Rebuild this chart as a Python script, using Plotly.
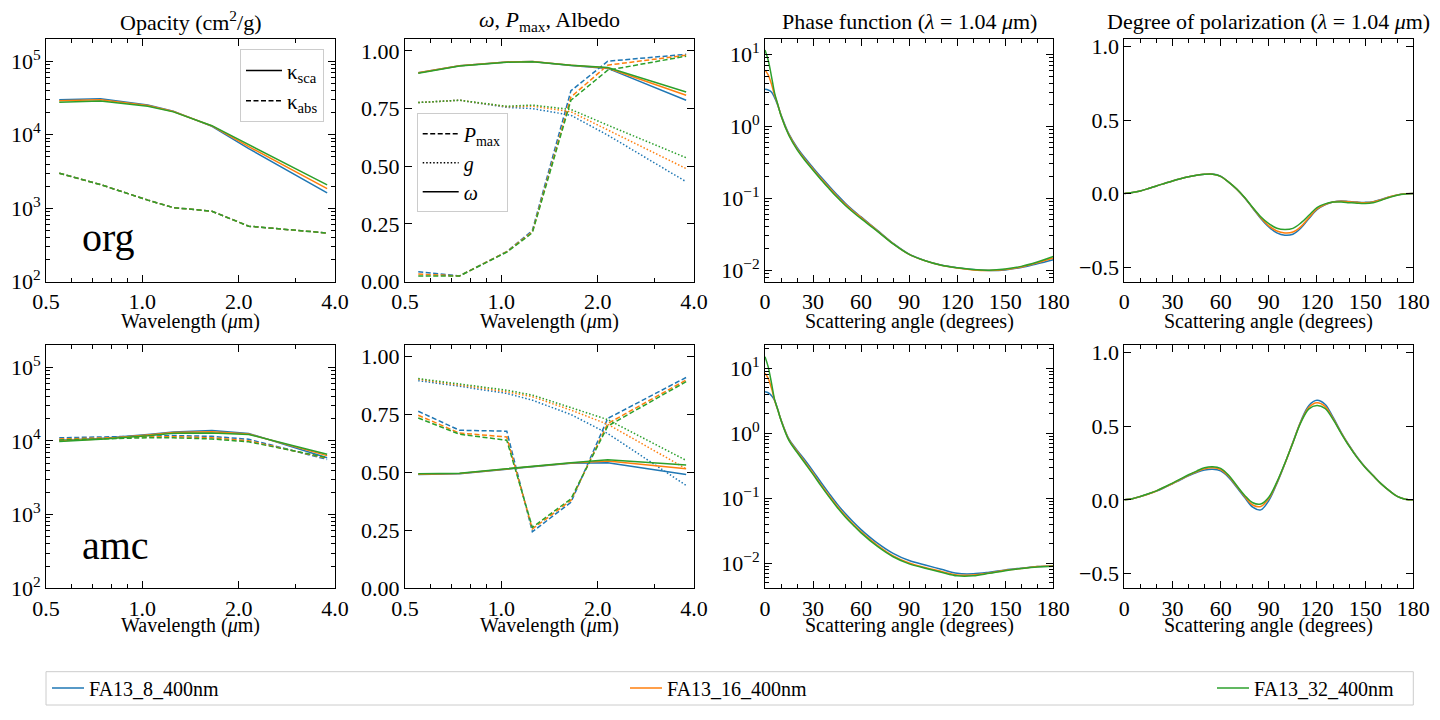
import numpy as np
import plotly.graph_objects as go
from plotly.subplots import make_subplots

models = ["FA13_8_400nm", "FA13_16_400nm", "FA13_32_400nm"]
colors = ["#1f77b4", "#ff7f0e", "#2ca02c"]

wavelength = [0.55, 0.74, 1.04, 1.25, 1.65, 2.15, 3.78]
wl_ticks = [0.5, 1, 2, 4]
wl_ticktext = ["0.5", "1.0", "2.0", "4.0"]
opac_ticks = [1e2, 1e3, 1e4, 1e5]
opac_ticktext = ["10<sup>2</sup>", "10<sup>3</sup>", "10<sup>4</sup>", "10<sup>5</sup>"]
phase_ticks = [1e-2, 1e-1, 1, 10]
phase_ticktext = ["10<sup>−2</sup>", "10<sup>−1</sup>", "10<sup>0</sup>", "10<sup>1</sup>"]

# opacity (cm^2/g), one list per model
org_ksca = [[2.99e4, 3.1e4, 2.55e4, 2.1e4, 1.3e4, 6.5e3, 1.62e3],
            [2.9e4, 3.0e4, 2.5e4, 2.08e4, 1.32e4, 6.9e3, 1.85e3],
            [2.77e4, 2.88e4, 2.45e4, 2.05e4, 1.33e4, 7.3e3, 2.08e3]]
org_kabs = [[3.0e3, 2.1e3, 1.29e3, 1.02e3, 9.1e2, 5.7e2, 4.6e2],
            [3.0e3, 2.1e3, 1.29e3, 1.02e3, 9.1e2, 5.7e2, 4.6e2],
            [3.0e3, 2.1e3, 1.29e3, 1.02e3, 9.1e2, 5.7e2, 4.6e2]]
amc_ksca = [[1.02e4, 1.08e4, 1.22e4, 1.32e4, 1.38e4, 1.26e4, 5.9e3],
            [1.0e4, 1.06e4, 1.2e4, 1.3e4, 1.33e4, 1.24e4, 6.3e3],
            [0.98e4, 1.05e4, 1.17e4, 1.27e4, 1.28e4, 1.22e4, 6.6e3]]
amc_kabs = [[1.1e4, 1.12e4, 1.16e4, 1.18e4, 1.15e4, 1.05e4, 5.6e3],
            [1.06e4, 1.1e4, 1.13e4, 1.14e4, 1.1e4, 1.0e4, 5.8e3],
            [1.03e4, 1.07e4, 1.1e4, 1.1e4, 1.06e4, 0.97e4, 5.9e3]]

# albedo, max polarization, asymmetry parameter
org_albedo = [[0.905, 0.935, 0.952, 0.954, 0.937, 0.924, 0.786],
              [0.905, 0.935, 0.952, 0.954, 0.938, 0.926, 0.808],
              [0.903, 0.934, 0.951, 0.953, 0.938, 0.928, 0.822]]
org_pmax = [[0.043, 0.025, 0.13, 0.222, 0.827, 0.955, 0.985],
            [0.033, 0.025, 0.13, 0.216, 0.80, 0.938, 0.981],
            [0.025, 0.025, 0.128, 0.212, 0.786, 0.916, 0.977]]
org_g = [[0.776, 0.786, 0.755, 0.75, 0.721, 0.635, 0.433],
         [0.776, 0.786, 0.758, 0.76, 0.736, 0.657, 0.49],
         [0.776, 0.786, 0.76, 0.765, 0.746, 0.678, 0.537]]
amc_albedo = [[0.491, 0.494, 0.514, 0.524, 0.540, 0.542, 0.491],
              [0.492, 0.495, 0.515, 0.526, 0.541, 0.549, 0.516],
              [0.494, 0.496, 0.516, 0.527, 0.542, 0.555, 0.532]]
amc_pmax = [[0.764, 0.682, 0.678, 0.244, 0.371, 0.733, 0.91],
            [0.747, 0.67, 0.653, 0.256, 0.379, 0.711, 0.899],
            [0.735, 0.665, 0.639, 0.263, 0.386, 0.70, 0.892]]
amc_g = [[0.896, 0.872, 0.841, 0.812, 0.75, 0.668, 0.444],
         [0.902, 0.878, 0.848, 0.827, 0.769, 0.708, 0.516],
         [0.905, 0.882, 0.855, 0.834, 0.78, 0.728, 0.552]]

# phase function at 1.04 um
phase_angle = [0, 2, 4, 6, 8, 10, 15, 20, 25, 30, 35, 40, 45, 50, 55, 60,
               70, 80, 90, 100, 110, 120, 130, 140, 150, 160, 170, 180]
org_phase = [[3.27, 3.2, 3.0, 2.5, 1.95, 1.45, 0.78, 0.51, 0.362, 0.266, 0.197, 0.148, 0.112, 0.086, 0.068, 0.055,
              0.036, 0.0236, 0.0167, 0.0136, 0.0118, 0.0108, 0.0102, 0.0099, 0.0101, 0.0109, 0.0123, 0.0140],
             [6.05, 5.2, 3.9, 2.7, 2.0, 1.42, 0.76, 0.49, 0.347, 0.254, 0.188, 0.141, 0.107, 0.083, 0.066, 0.054,
              0.0355, 0.0234, 0.0166, 0.0135, 0.0117, 0.0107, 0.0101, 0.0099, 0.0102, 0.0111, 0.0127, 0.0148],
             [11.5, 8.3, 5.0, 2.9, 2.02, 1.4, 0.74, 0.475, 0.335, 0.245, 0.181, 0.136, 0.103, 0.080, 0.064, 0.052,
              0.035, 0.0232, 0.0166, 0.0135, 0.0117, 0.0108, 0.0102, 0.0100, 0.0104, 0.0113, 0.0130, 0.0155]]
amc_phase = [[4.37, 4.2, 3.8, 3.2, 2.3, 1.62, 0.81, 0.55, 0.385, 0.262, 0.175, 0.119, 0.082, 0.0586, 0.0435, 0.033,
              0.0206, 0.0142, 0.0110, 0.0094, 0.0081, 0.0070, 0.0069, 0.0073, 0.0079, 0.0084, 0.0089, 0.0091],
             [8.4, 7.0, 5.0, 3.2, 2.29, 1.6, 0.79, 0.531, 0.359, 0.243, 0.162, 0.110, 0.0759, 0.0543, 0.0403, 0.0305,
              0.0191, 0.0130, 0.0101, 0.0086, 0.0075, 0.0066, 0.0066, 0.0071, 0.0078, 0.0083, 0.0089, 0.0091],
             [15.1, 10.5, 6.0, 3.3, 2.3, 1.58, 0.77, 0.51, 0.345, 0.233, 0.155, 0.105, 0.0728, 0.0521, 0.0387, 0.0293,
              0.0183, 0.0126, 0.0098, 0.0084, 0.0073, 0.0064, 0.0064, 0.0070, 0.0077, 0.0083, 0.0088, 0.0090]]

# degree of polarization at 1.04 um
pol_angle = list(range(0, 181, 5))
org_pol = [[0, 0.007, 0.018, 0.034, 0.052, 0.069, 0.086, 0.101, 0.114, 0.124, 0.131, 0.133, 0.118, 0.078,
            0.03, -0.03, -0.10, -0.17, -0.228, -0.268, -0.284, -0.277, -0.235, -0.17, -0.11, -0.077,
            -0.058, -0.05, -0.054, -0.058, -0.06, -0.055, -0.04, -0.023, -0.009, -0.002, 0],
           [0, 0.007, 0.018, 0.034, 0.052, 0.069, 0.086, 0.101, 0.114, 0.124, 0.131, 0.132, 0.117, 0.078,
            0.03, -0.029, -0.098, -0.165, -0.22, -0.255, -0.268, -0.262, -0.225, -0.163, -0.105, -0.075,
            -0.058, -0.052, -0.056, -0.06, -0.062, -0.057, -0.042, -0.024, -0.01, -0.002, 0],
           [0, 0.007, 0.018, 0.034, 0.052, 0.069, 0.086, 0.101, 0.114, 0.124, 0.131, 0.132, 0.117, 0.078,
            0.031, -0.027, -0.095, -0.158, -0.205, -0.236, -0.245, -0.237, -0.20, -0.148, -0.095, -0.07,
            -0.058, -0.058, -0.062, -0.066, -0.068, -0.062, -0.046, -0.027, -0.011, -0.003, 0]]
amc_pol = [[0, 0.008, 0.023, 0.04, 0.059, 0.083, 0.109, 0.136, 0.162, 0.185, 0.202, 0.207, 0.196, 0.152,
            0.085, 0.015, -0.05, -0.068, -0.005, 0.11, 0.245, 0.39, 0.535, 0.64, 0.675, 0.648, 0.56,
            0.46, 0.37, 0.29, 0.222, 0.165, 0.109, 0.063, 0.023, 0.004, 0],
           [0, 0.008, 0.023, 0.04, 0.06, 0.085, 0.111, 0.139, 0.166, 0.19, 0.21, 0.217, 0.206, 0.16,
            0.092, 0.023, -0.035, -0.045, 0.008, 0.115, 0.245, 0.388, 0.53, 0.628, 0.658, 0.634, 0.552,
            0.456, 0.367, 0.288, 0.221, 0.164, 0.108, 0.062, 0.023, 0.004, 0],
           [0, 0.008, 0.023, 0.041, 0.061, 0.087, 0.113, 0.142, 0.17, 0.195, 0.218, 0.225, 0.213, 0.166,
            0.097, 0.03, -0.02, -0.028, 0.018, 0.12, 0.248, 0.386, 0.525, 0.617, 0.64, 0.62, 0.545,
            0.452, 0.364, 0.286, 0.22, 0.163, 0.108, 0.062, 0.023, 0.004, 0]]

W, H = 1440, 720
OFF = 8  # page body margin
FONT = "Liberation Serif, serif"
DASH = "5px,2.5px"
DOT = "1.5px,2px"


def fx(xp):
    return (xp - OFF) / W


def fy(yp):
    return 1 - (yp - OFF) / H


fig = make_subplots(rows=2, cols=4)

opacity = [(org_ksca, org_kabs), (amc_ksca, amc_kabs)]
albedo = [(org_pmax, org_g, org_albedo), (amc_pmax, amc_g, amc_albedo)]
phase = [org_phase, amc_phase]
pol = [org_pol, amc_pol]
model_legends = ["legend", "legend4", "legend5"]

for r in range(2):
    for i in range(3):
        ksca, kabs = opacity[r]
        fig.add_trace(go.Scatter(x=wavelength, y=ksca[i], mode="lines", name=models[i],
                                 line=dict(color=colors[i], width=1.5),
                                 showlegend=(r == 0), legend=model_legends[i]), row=r + 1, col=1)
        fig.add_trace(go.Scatter(x=wavelength, y=kabs[i], mode="lines", showlegend=False,
                                 line=dict(color=colors[i], width=1.5, dash=DASH)),
                      row=r + 1, col=1)
        pmax, g, alb = albedo[r]
        fig.add_trace(go.Scatter(x=wavelength, y=pmax[i], mode="lines", showlegend=False,
                                 line=dict(color=colors[i], width=1.5, dash=DASH)),
                      row=r + 1, col=2)
        fig.add_trace(go.Scatter(x=wavelength, y=g[i], mode="lines", showlegend=False,
                                 line=dict(color=colors[i], width=1.5, dash=DOT)),
                      row=r + 1, col=2)
        fig.add_trace(go.Scatter(x=wavelength, y=alb[i], mode="lines", showlegend=False,
                                 line=dict(color=colors[i], width=1.5)),
                      row=r + 1, col=2)
        fig.add_trace(go.Scatter(x=phase_angle, y=phase[r][i], mode="lines", showlegend=False,
                                 line=dict(color=colors[i], width=1.5, shape="spline")),
                      row=r + 1, col=3)
        fig.add_trace(go.Scatter(x=pol_angle, y=pol[r][i], mode="lines", showlegend=False,
                                 line=dict(color=colors[i], width=1.5, shape="spline")),
                      row=r + 1, col=4)

# line-style legends
for lab, dash in [("κ<sub>sca</sub>", "solid"), ("κ<sub>abs</sub>", DASH)]:
    fig.add_trace(go.Scatter(x=[None], y=[None], mode="lines", name=lab, legend="legend2",
                             line=dict(color="black", width=1.5, dash=dash)), row=1, col=1)
for lab, dash in [("<i>P</i><sub>max</sub>", DASH), ("<i>g</i>", DOT), ("<i>ω</i>", "solid")]:
    fig.add_trace(go.Scatter(x=[None], y=[None], mode="lines", name=lab, legend="legend3",
                             line=dict(color="black", width=1.5, dash=dash)), row=1, col=2)

# axes geometry (page pixels)
col_x = [(46, 335), (405, 694), (765, 1053.3), (1124.3, 1413.3)]
row_y = [(39.3, 281.7), (345, 588.3)]

axis_common = dict(showline=True, linecolor="black", linewidth=1, mirror="allticks",
                   ticks="inside", ticklen=7, tickcolor="black", showgrid=False,
                   zeroline=False, automargin=False,
                   tickfont=dict(size=22, family=FONT, color="black"))
minor_common = dict(ticks="inside", ticklen=4, tickcolor="black", showgrid=False)

log_minor = [m * 10.0 ** e for e in range(-3, 6) for m in range(2, 10)]

for r in range(2):
    for c in range(4):
        n = r * 4 + c + 1
        xa = "xaxis" if n == 1 else f"xaxis{n}"
        ya = "yaxis" if n == 1 else f"yaxis{n}"
        x0, x1 = col_x[c]
        y0, y1 = row_y[r]
        xd = dict(axis_common, domain=[fx(x0), fx(x1)])
        yd = dict(axis_common, domain=[fy(y1), fy(y0)])
        if c < 2:
            xd.update(type="log", range=[np.log10(0.5), np.log10(4.0)],
                      tickmode="array", tickvals=wl_ticks, ticktext=wl_ticktext,
                      minor=dict(minor_common, tickmode="array", tickvals=[0.6, 0.7, 0.8, 0.9, 3]))
        else:
            xd.update(range=[0, 180], tickmode="linear", tick0=0, dtick=30,
                      minor=dict(minor_common, tickmode="linear", tick0=0, dtick=10))
        if c == 0:
            yd.update(type="log", range=[2, 5.3], tickmode="array",
                      tickvals=opac_ticks, ticktext=opac_ticktext,
                      minor=dict(minor_common, tickmode="array", tickvals=log_minor))
        elif c == 1:
            yd.update(range=[0, 1.05], tickmode="linear", tick0=0, dtick=0.25, tickformat=".2f")
        elif c == 2:
            yd.update(type="log", range=[[-2.16, 1.21], [-2.385, 1.358]][r], tickmode="array",
                      tickvals=phase_ticks, ticktext=phase_ticktext,
                      minor=dict(minor_common, tickmode="array", tickvals=log_minor))
        else:
            yd.update(range=[-0.6, 1.05], tickmode="linear", tick0=0, dtick=0.5, tickformat=".1f")
        fig.update_layout({xa: xd, ya: yd})

annotations = []
titles = ["Opacity (cm<sup>2</sup>/g)", "<i>ω</i>, <i>P</i><sub>max</sub>, Albedo",
          "Phase function (<i>λ</i> = 1.04 <i>μ</i>m)",
          "Degree of polarization (<i>λ</i> = 1.04 <i>μ</i>m)"]
xlabels = ["Wavelength (<i>μ</i>m)", "Wavelength (<i>μ</i>m)",
           "Scattering angle (degrees)", "Scattering angle (degrees)"]
for c in range(4):
    xc = fx((col_x[c][0] + col_x[c][1]) / 2)
    annotations.append(dict(text=titles[c], x=xc, y=fy(21), xref="paper", yref="paper",
                            showarrow=False, xanchor="center", yanchor="middle",
                            font=dict(size=22, family=FONT, color="black")))
    for yl in [321, 625]:
        annotations.append(dict(text=xlabels[c], x=xc, y=fy(yl), xref="paper", yref="paper",
                                showarrow=False, xanchor="center", yanchor="middle",
                                font=dict(size=20, family=FONT, color="black")))
for lab, ytop in [("org", 213), ("amc", 521)]:
    annotations.append(dict(text=lab, x=fx(80), y=fy(ytop), xref="paper", yref="paper",
                            showarrow=False, xanchor="left", yanchor="top",
                            font=dict(size=40, family=FONT, color="black")))

model_legend = dict(orientation="h", xanchor="left", yanchor="middle", y=fy(688),
                    bgcolor="rgba(0,0,0,0)", itemwidth=32,
                    font=dict(size=20, family=FONT, color="black"))

fig.update_layout(
    width=W, height=H,
    margin=dict(l=0, r=0, t=0, b=0),
    paper_bgcolor="white", plot_bgcolor="white",
    font=dict(family=FONT, color="black"),
    annotations=annotations,
    legend=dict(model_legend, x=fx(47)),
    legend4=dict(model_legend, x=fx(625)),
    legend5=dict(model_legend, x=fx(1212)),
    legend2=dict(x=fx(324), y=fy(49.3), xanchor="right", yanchor="top", itemwidth=36,
                 bgcolor="white", bordercolor="#cccccc", borderwidth=1,
                 font=dict(size=21, family=FONT, color="black")),
    legend3=dict(x=fx(416.7), y=fy(113.3), xanchor="left", yanchor="top", itemwidth=36,
                 bgcolor="white", bordercolor="#cccccc", borderwidth=1,
                 font=dict(size=20, family=FONT, color="black")),
    shapes=[dict(type="rect", xref="paper", yref="paper", x0=fx(46), x1=fx(1413.3),
                 y0=fy(705), y1=fy(671.7), line=dict(color="#cccccc", width=1))],
)

fig.write_html("out.html")
